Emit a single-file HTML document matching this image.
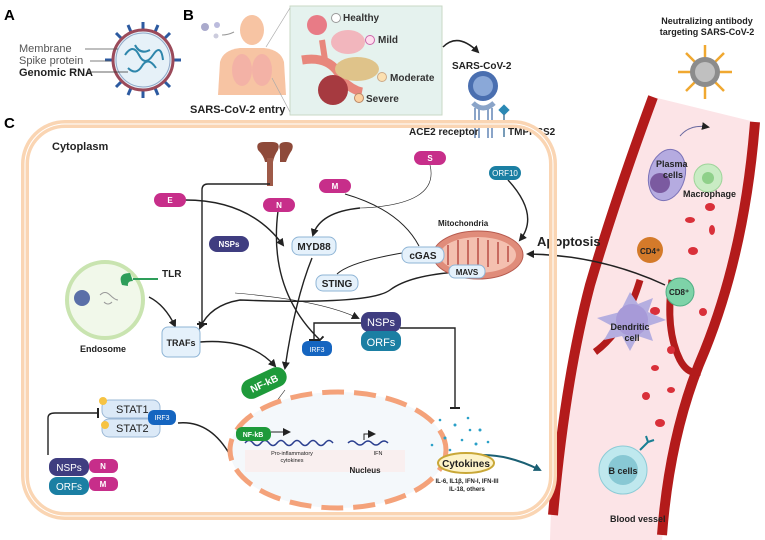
<!DOCTYPE html>
<html><head><meta charset="utf-8"><style>
html,body{margin:0;padding:0;background:#fff}
svg{display:block}
text{font-family:"Liberation Sans",sans-serif}
</style></head><body>
<svg width="765" height="540" viewBox="0 0 765 540" xmlns="http://www.w3.org/2000/svg">
<defs>
<marker id="ar" markerWidth="8" markerHeight="8" refX="6" refY="4" orient="auto" markerUnits="userSpaceOnUse"><path d="M0,0 L8,4 L0,8 z" fill="#222"/></marker>
<marker id="arT" markerWidth="8" markerHeight="8" refX="6" refY="4" orient="auto" markerUnits="userSpaceOnUse"><path d="M0,0 L8,4 L0,8 z" fill="#1a5f73"/></marker>
<marker id="tb" markerWidth="2" markerHeight="10" refX="1" refY="5" orient="auto" markerUnits="userSpaceOnUse"><rect x="0" y="0" width="2" height="10" fill="#222"/></marker>
</defs>

<text x="4" y="20" font-size="15" font-weight="bold">A</text>
<text x="183" y="20" font-size="15" font-weight="bold">B</text>
<text x="4" y="128" font-size="15" font-weight="bold">C</text>

<g>
 <g stroke="#2c5aa0" stroke-width="3">
  <line x1="143" y1="60" x2="143" y2="22"/><line x1="143" y1="60" x2="143" y2="98"/>
  <line x1="143" y1="60" x2="105" y2="60"/><line x1="143" y1="60" x2="181" y2="60"/>
  <line x1="143" y1="60" x2="116" y2="33"/><line x1="143" y1="60" x2="170" y2="87"/>
  <line x1="143" y1="60" x2="170" y2="33"/><line x1="143" y1="60" x2="116" y2="87"/>
  <line x1="143" y1="60" x2="128" y2="25"/><line x1="143" y1="60" x2="158" y2="95"/>
  <line x1="143" y1="60" x2="158" y2="25"/><line x1="143" y1="60" x2="128" y2="95"/>
 </g>
 <circle cx="143" cy="60" r="30" fill="#e6f1f8" stroke="#9b4a5a" stroke-width="3"/>
 <circle cx="143" cy="60" r="27" fill="#e6f1f8" stroke="#8fa8c8" stroke-width="1"/>
 <path d="M125,55 q8,-12 14,0 t14,0 t10,5 M128,68 q8,8 14,-2 t14,2 M135,45 q5,10 15,5" stroke="#2e86ab" stroke-width="2" fill="none"/>
</g>
<text x="19" y="52" font-size="11" fill="#555">Membrane</text>
<text x="19" y="64" font-size="11" fill="#555">Spike protein</text>
<text x="19" y="76" font-size="11" font-weight="bold" fill="#222">Genomic RNA</text>
<line x1="85" y1="49" x2="118" y2="49" stroke="#555" stroke-width="0.7"/>
<line x1="90" y1="61" x2="110" y2="61" stroke="#555" stroke-width="0.7"/>
<line x1="87" y1="72" x2="128" y2="72" stroke="#333" stroke-width="0.7"/>

<circle cx="205" cy="27" r="4" fill="#aac"/><circle cx="217" cy="25" r="3" fill="#bbd"/><circle cx="216" cy="36" r="2.5" fill="#ccd"/>
<path d="M222,35 q6,0 12,-3" stroke="#999" fill="none"/>
<ellipse cx="252" cy="30" rx="12" ry="15" fill="#f7c4a3"/>
<path d="M218,95 L220,62 q3,-12 20,-14 L264,48 q17,2 20,14 L286,95 z" fill="#f7c4a3"/>
<ellipse cx="242" cy="70" rx="10" ry="16" fill="#f0a7a9" opacity="0.6"/>
<ellipse cx="262" cy="70" rx="10" ry="16" fill="#f0a7a9" opacity="0.6"/>
<text x="190" y="113" font-size="11" font-weight="bold" fill="#222">SARS-CoV-2 entry</text>
<rect x="290" y="6" width="152" height="109" fill="#e5f2ee" stroke="#c9d8c6"/>
<line x1="266" y1="47" x2="290" y2="8" stroke="#aaa" stroke-width="0.7"/>
<line x1="272" y1="78" x2="290" y2="112" stroke="#aaa" stroke-width="0.7"/>
<path d="M302,60 q30,-5 40,20 q10,10 20,12" stroke="#e8877c" stroke-width="9" fill="none"/>
<path d="M322,40 L325,60" stroke="#e8877c" stroke-width="6"/>
<circle cx="317" cy="25" r="10" fill="#e87b86"/>
<ellipse cx="348" cy="42" rx="17" ry="12" fill="#f2b6bd"/>
<ellipse cx="357" cy="69" rx="22" ry="12" fill="#dfc38a"/>
<circle cx="333" cy="90" r="15" fill="#a63a40"/>
<g font-size="10" font-weight="bold" fill="#333">
<circle cx="336" cy="18" r="4.5" fill="#fff" stroke="#999"/><text x="343" y="21">Healthy</text>
<circle cx="370" cy="40" r="4.5" fill="#fde" stroke="#c6a"/><text x="378" y="43">Mild</text>
<circle cx="382" cy="77" r="4.5" fill="#fce0b0" stroke="#ca8"/><text x="390" y="81">Moderate</text>
<circle cx="359" cy="98" r="4.5" fill="#fcd0a0" stroke="#b86"/><text x="366" y="102">Severe</text>
</g>
<path d="M443,47 q15,-15 35,5" stroke="#222" stroke-width="1.5" fill="none" marker-end="url(#ar)"/>
<text x="452" y="69" font-size="10" font-weight="bold" fill="#222">SARS-CoV-2</text>
<circle cx="483" cy="86" r="15" fill="#4a6fb0"/><circle cx="483" cy="86" r="10" fill="#8aa8d8"/>
<path d="M475,108 v30 M479,108 v30 M488,108 v30 M492,108 v30" stroke="#8aa4c8" stroke-width="2"/>
<path d="M473,103 q10,10 21,0" stroke="#8aa4c8" stroke-width="5" fill="none"/>
<rect x="500" y="106" width="8" height="8" fill="#2b89b5" transform="rotate(45 504 110)"/>
<line x1="504" y1="114" x2="504" y2="137" stroke="#4a7aa0" stroke-width="1.5"/>
<text x="409" y="135" font-size="10" font-weight="bold" fill="#222">ACE2 receptor</text>
<text x="508" y="135" font-size="10" font-weight="bold" fill="#222">TMPRSS2</text>

<text x="707" y="24" font-size="9" font-weight="bold" text-anchor="middle" fill="#222">Neutralizing antibody</text>
<text x="707" y="35" font-size="9" font-weight="bold" text-anchor="middle" fill="#222">targeting SARS-CoV-2</text>
<g stroke="#f0a830" stroke-width="2.5">
<line x1="705" y1="72" x2="705" y2="45"/><line x1="705" y1="72" x2="705" y2="99"/>
<line x1="705" y1="72" x2="678" y2="72"/><line x1="705" y1="72" x2="732" y2="72"/>
<line x1="705" y1="72" x2="686" y2="53"/><line x1="705" y1="72" x2="724" y2="91"/>
<line x1="705" y1="72" x2="724" y2="53"/><line x1="705" y1="72" x2="686" y2="91"/>
</g>
<circle cx="705" cy="72" r="15" fill="#8c8c8c"/><circle cx="705" cy="72" r="10" fill="#c0c0c0"/>

<path d="M653,97 L755,122 Q740,250 705,360 Q675,440 662,540 L550,540 Q552,450 570,380 Q580,330 590,280 Z" fill="#fce4e7"/>
<path d="M653,97 Q615,200 590,285 Q565,380 553,515" stroke="#b31b1b" stroke-width="10" fill="none"/>
<path d="M755,122 Q745,250 705,350 Q670,430 662,535" stroke="#b31b1b" stroke-width="10" fill="none"/>
<path d="M672,280 Q665,330 680,360 Q688,375 700,372" stroke="#b31b1b" stroke-width="7" fill="none"/>
<path d="M640,280 Q625,330 595,352" stroke="#b31b1b" stroke-width="7" fill="none"/>
<g fill="#d9303a">
<ellipse cx="710" cy="207" rx="5" ry="4"/><ellipse cx="690" cy="220" rx="5" ry="3"/><ellipse cx="712" cy="230" rx="3" ry="5"/>
<ellipse cx="693" cy="251" rx="5" ry="4"/><ellipse cx="655" cy="311" rx="5" ry="4"/><ellipse cx="703" cy="312" rx="4" ry="4"/>
<ellipse cx="655" cy="368" rx="4" ry="3"/><ellipse cx="646" cy="396" rx="4" ry="4"/><ellipse cx="671" cy="390" rx="4" ry="3"/>
<ellipse cx="660" cy="423" rx="5" ry="4"/><ellipse cx="671" cy="350" rx="4" ry="4"/>
</g>
<ellipse cx="667" cy="175" rx="18" ry="26" fill="#b5abe0" stroke="#7c73b8" transform="rotate(15 667 175)"/>
<circle cx="660" cy="183" r="10" fill="#7b5aa0"/>
<text x="656" y="167" font-size="9" font-weight="bold" fill="#222">Plasma</text>
<text x="663" y="178" font-size="9" font-weight="bold" fill="#222">cells</text>
<circle cx="708" cy="178" r="14" fill="#c9ecc4" stroke="#9fd49a"/><circle cx="708" cy="178" r="6" fill="#8fd08a"/>
<text x="683" y="197" font-size="9" font-weight="bold" fill="#222">Macrophage</text>
<path d="M680,136 q10,-12 28,-9" stroke="#6a6aa0" fill="none" marker-end="url(#ar)"/>
<circle cx="650" cy="250" r="13" fill="#d47a2a"/>
<text x="640" y="254" font-size="8" font-weight="bold" fill="#222">CD4⁺</text>
<circle cx="680" cy="292" r="14" fill="#7ed3a8" stroke="#4fae84"/>
<text x="669" y="295" font-size="8" font-weight="bold" fill="#222">CD8⁺</text>
<path d="M620,312 l10,-20 l8,12 l15,-6 l-5,14 l18,8 l-18,6 l5,15 l-15,-5 l-8,15 l-8,-15 l-18,4 l8,-14 l-15,-8 z" fill="#b5aee0"/>
<circle cx="632" cy="320" r="16" fill="#a79ad8"/>
<text x="630" y="330" font-size="9" font-weight="bold" text-anchor="middle" fill="#222">Dendritic</text>
<text x="632" y="341" font-size="9" font-weight="bold" text-anchor="middle" fill="#222">cell</text>
<circle cx="623" cy="470" r="24" fill="#bfe8ee" stroke="#8ccbd6"/><circle cx="623" cy="470" r="15" fill="#88c8d4"/>
<text x="623" y="474" font-size="9" font-weight="bold" text-anchor="middle" fill="#222">B cells</text>
<path d="M640,450 l8,-8 m0,0 l-2,-6 m2,6 l6,-2" stroke="#1a7f94" stroke-width="2" fill="none"/>
<text x="610" y="522" font-size="9" font-weight="bold" fill="#222">Blood vessel</text>
<text x="537" y="246" font-size="13" font-weight="bold" fill="#222">Apoptosis</text>
<path d="M665,285 Q600,255 528,254" stroke="#222" stroke-width="1.5" fill="none" marker-end="url(#ar)"/>

<rect x="25" y="124" width="528" height="392" rx="40" fill="none" stroke="#fad5b3" stroke-width="8"/>
<rect x="25" y="124" width="528" height="392" rx="40" fill="none" stroke="#fff" stroke-width="1"/>
<text x="52" y="150" font-size="11" font-weight="bold" fill="#222">Cytoplasm</text>

<path d="M258,150 q-3,-8 6,-8 l8,0 q9,0 6,8 q-4,6 -5,12 l-8,0 q-1,-6 -7,-12 z M280,150 q-3,-8 6,-8 q9,0 6,8 q-4,6 -6,12 l-6,0 z" fill="#8e4a3a"/>
<rect x="267" y="158" width="6" height="28" fill="#9e5a48"/>

<g stroke="#222" stroke-width="1.4" fill="none">
<path d="M270,184 L208,184 Q202,184 202,190 L202,324" marker-end="url(#tb)"/>
<path d="M185,200 Q250,200 283,245" marker-end="url(#ar)"/>
<path d="M278,211 Q268,290 320,340" marker-end="url(#tb)"/>
<path d="M430,165 Q440,205 360,208 Q320,212 313,235" stroke-width="0.6"/>
<path d="M360,208 Q320,212 313,235" marker-end="url(#ar)"/>
<path d="M345,194 Q400,210 419,246" stroke-width="1"/>
<path d="M508,180 Q540,215 520,240" marker-end="url(#ar)"/>
<path d="M402,253 Q350,262 337,274" stroke-width="1"/>
<path d="M312,258 Q295,300 285,368" marker-end="url(#ar)"/>
<path d="M459,272 Q410,275 390,290 Q370,305 240,300 Q210,305 200,328" marker-end="url(#ar)"/>
<path d="M149,297 Q165,305 175,326" marker-end="url(#ar)"/>
<path d="M200,342 Q250,338 275,366" marker-end="url(#ar)"/>
<path d="M362,323 L314,323 L314,340" marker-end="url(#tb)"/>
<path d="M400,328 L455,328 L455,408" marker-end="url(#tb)"/>
<path d="M48,455 L48,418 Q48,413 55,413 L98,413" marker-end="url(#tb)"/>
<path d="M178,423 Q210,420 230,455 Q260,495 330,470" marker-end="url(#ar)"/>
<path d="M285,390 L255,430" stroke-width="0.6" marker-end="url(#ar)"/>
<path d="M235,293 Q320,300 358,318" stroke-width="0.6" marker-end="url(#ar)"/>
</g>
<path d="M432,470 Q480,440 540,470" stroke="#1a5f73" stroke-width="2" fill="none" marker-end="url(#arT)"/>

<text x="438" y="226" font-size="8" font-weight="bold" fill="#222">Mitochondria</text>
<ellipse cx="478" cy="255" rx="45" ry="24" fill="#e08c7a" stroke="#b65a4e"/>
<ellipse cx="478" cy="255" rx="38" ry="18" fill="#f4c0b0"/>
<path d="M448,245 v20 M458,240 v25 M468,240 v28 M478,238 v28 M488,240 v27 M498,242 v22 M508,246 v16" stroke="#c86a60" stroke-width="2"/>

<g font-size="8" font-weight="bold" fill="#fff" text-anchor="middle">
<rect x="414" y="151" width="32" height="14" rx="7" fill="#c72e8a"/><text x="430" y="161">S</text>
<rect x="319" y="179" width="32" height="14" rx="7" fill="#c72e8a"/><text x="335" y="189">M</text>
<rect x="154" y="193" width="32" height="14" rx="7" fill="#c72e8a"/><text x="170" y="203">E</text>
<rect x="263" y="198" width="32" height="14" rx="7" fill="#c72e8a"/><text x="279" y="208">N</text>
<rect x="489" y="166" width="32" height="14" rx="7" fill="#1b7fa3"/><text x="505" y="176" font-weight="normal">ORF10</text>
<rect x="209" y="236" width="40" height="16" rx="8" fill="#3f3d80"/><text x="229" y="247">NSPs</text>
</g>
<g font-size="10" font-weight="bold" fill="#222" text-anchor="middle">
<rect x="292" y="237" width="44" height="18" rx="7" fill="#e5f1fb" stroke="#8fb5d6"/><text x="314" y="250">MYD88</text>
<rect x="402" y="247" width="42" height="16" rx="7" fill="#e5f1fb" stroke="#8fb5d6"/><text x="423" y="259">cGAS</text>
<rect x="316" y="275" width="42" height="16" rx="7" fill="#e5f1fb" stroke="#8fb5d6"/><text x="337" y="287">STING</text>
<rect x="449" y="265" width="36" height="13" rx="6" fill="#e5f1fb" stroke="#8fb5d6"/><text x="467" y="275" font-size="8">MAVS</text>
<rect x="162" y="327" width="38" height="30" rx="6" fill="#e5f1fb" stroke="#8fb5d6"/><text x="181" y="346" font-size="9">TRAFs</text>
</g>
<g text-anchor="middle" fill="#fff">
<rect x="302" y="341" width="30" height="15" rx="6" fill="#1565c0"/><text x="317" y="352" font-size="7">IRF3</text>
<rect x="361" y="312" width="40" height="20" rx="8" fill="#3f3d80"/><text x="381" y="326" font-size="11">NSPs</text>
<rect x="361" y="331" width="40" height="20" rx="8" fill="#1b7fa3"/><text x="381" y="346" font-size="11">ORFs</text>
<rect x="49" y="458" width="40" height="18" rx="8" fill="#3f3d80"/><text x="69" y="471" font-size="10">NSPs</text>
<rect x="49" y="477" width="40" height="18" rx="8" fill="#1b7fa3"/><text x="69" y="490" font-size="10">ORFs</text>
<rect x="89" y="459" width="29" height="14" rx="6" fill="#c72e8a"/><text x="103" y="469" font-size="8" font-weight="bold">N</text>
<rect x="89" y="477" width="29" height="14" rx="6" fill="#c72e8a"/><text x="103" y="487" font-size="8" font-weight="bold">M</text>
<g transform="rotate(-25 264 383)"><rect x="240" y="373" width="48" height="20" rx="10" fill="#1e9a3a"/><text x="264" y="387" font-size="10" font-weight="bold">NF-kB</text></g>
</g>

<circle cx="105" cy="300" r="38" fill="#f1f8ea" stroke="#c9e4b0" stroke-width="4"/>
<circle cx="82" cy="298" r="8" fill="#5a6fa8"/>
<path d="M100,295 q5,-5 10,0 t8,5 M104,302 q4,4 8,0" stroke="#999" fill="none"/>
<path d="M122,285 q-5,-12 8,-12 l3,8 q-6,0 -5,5 z" fill="#2e9e5a"/>
<line x1="133" y1="279" x2="158" y2="279" stroke="#2e9e5a" stroke-width="2"/>
<text x="162" y="277" font-size="10" font-weight="bold" fill="#222">TLR</text>
<text x="80" y="352" font-size="9" font-weight="bold" fill="#222">Endosome</text>

<rect x="102" y="400" width="58" height="18" rx="7" fill="#dbe9f7" stroke="#9bb8d6"/>
<rect x="102" y="419" width="58" height="18" rx="7" fill="#dbe9f7" stroke="#9bb8d6"/>
<text x="116" y="413" font-size="11" fill="#222">STAT1</text>
<text x="116" y="432" font-size="11" fill="#222">STAT2</text>
<circle cx="103" cy="401" r="4" fill="#f6c343"/><circle cx="105" cy="425" r="4" fill="#f6c343"/>
<rect x="148" y="410" width="28" height="15" rx="6" fill="#1565c0"/><text x="162" y="420" font-size="7" fill="#fff" text-anchor="middle">IRF3</text>

<ellipse cx="338" cy="450" rx="108" ry="58" fill="#f4f8fb" stroke="#f4a27a" stroke-width="5" stroke-dasharray="22 10"/>
<rect x="245" y="450" width="160" height="22" fill="#fbe9e7" opacity="0.6"/>
<path d="M245,443 q4,-5 8,0 t8,0 t8,0 t8,0 t8,0 t8,0 t8,0 t8,0 t8,0 t8,0 t8,0" stroke="#2a3f8f" stroke-width="1.5" fill="none"/>
<path d="M348,443 q4,-4 8,0 t8,0 t8,0 t8,0 t8,0" stroke="#2a3f8f" stroke-width="1.5" fill="none"/>
<rect x="236" y="427" width="35" height="14" rx="6" fill="#1e9a3a"/><text x="253" y="437" font-size="7" fill="#fff" text-anchor="middle" font-weight="bold">NF-kB</text>
<path d="M271,432 h18" stroke="#222" marker-end="url(#ar)"/>
<path d="M364,440 v-6 h10" stroke="#222" fill="none" marker-end="url(#ar)"/>
<text x="292" y="455" font-size="5.5" text-anchor="middle" fill="#222">Pro-inflammatory</text>
<text x="292" y="462" font-size="5.5" text-anchor="middle" fill="#222">cytokines</text>
<text x="378" y="455" font-size="5.5" text-anchor="middle" fill="#222">IFN</text>
<text x="365" y="473" font-size="8" font-weight="bold" text-anchor="middle" fill="#222">Nucleus</text>

<g fill="#2aa0c8">
<circle cx="440" cy="420" r="1.3"/><circle cx="455" cy="425" r="1.5"/><circle cx="468" cy="418" r="1.3"/><circle cx="480" cy="430" r="1.5"/>
<circle cx="445" cy="438" r="1.5"/><circle cx="462" cy="440" r="1.3"/><circle cx="476" cy="444" r="1.5"/><circle cx="432" cy="445" r="1.3"/>
<circle cx="450" cy="450" r="1.3"/><circle cx="488" cy="442" r="1.3"/><circle cx="470" cy="430" r="1.3"/>
</g>
<ellipse cx="466" cy="463" rx="28" ry="10" fill="#fdf3c8" stroke="#c9a838" stroke-width="2"/>
<text x="466" y="467" font-size="10" font-weight="bold" text-anchor="middle" fill="#222">Cytokines</text>
<text x="467" y="483" font-size="6" font-weight="bold" text-anchor="middle" fill="#222">IL-6, IL1β, IFN-I, IFN-III</text>
<text x="467" y="491" font-size="6" font-weight="bold" text-anchor="middle" fill="#222">IL-18, others</text>
</svg>
</body></html>
